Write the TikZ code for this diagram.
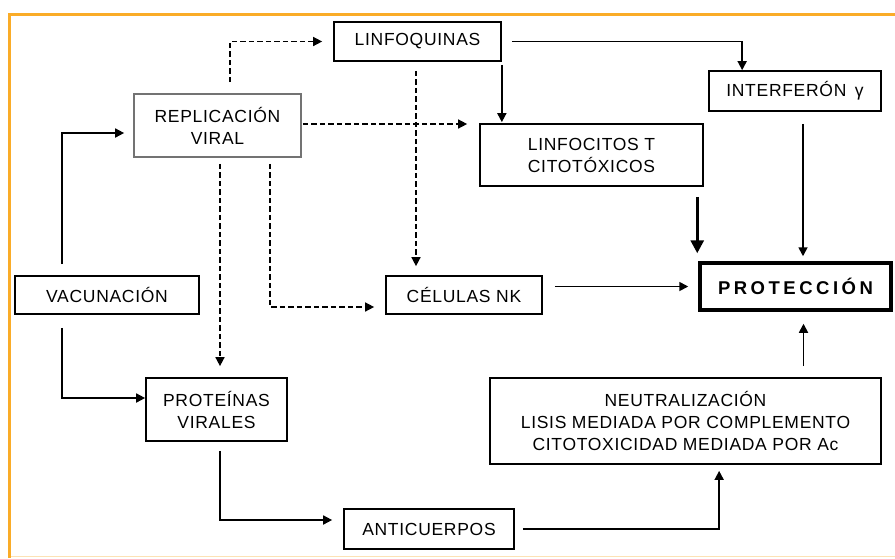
\documentclass[tikz,border=0pt]{standalone}
\usepackage{fontspec}
\setmainfont{Liberation Sans}
\usetikzlibrary{arrows.meta,calc}
\definecolor{frameorange}{RGB}{250,172,40}
\begin{document}
\begin{tikzpicture}[x=1pt,y=-1pt,
  box/.style={draw, line width=1.7pt, rectangle, inner sep=0pt, align=center,
    font=\fontsize{17.5}{22}\selectfont\addfontfeature{LetterSpace=4}},
  arr/.style={line width=1.7pt, -{Triangle[length=9pt,width=9pt]}},
  darr/.style={arr, line width=1.5pt, dash pattern=on 5.5pt off 3pt},
  bigarr/.style={line width=3pt, -{Triangle[length=13pt,width=13pt]}}
]
\useasboundingbox (0,0) rectangle (895,558);
\fill[white] (0,0) rectangle (895,558);
% frame
\draw[frameorange, line width=3.5pt] (9.5,558) -- (9.5,14.5) -- (895,14.5);
\draw[frameorange!35, line width=1.2pt] (11,556.5) -- (895,556.5);

% nodes
\node[box, minimum width=167pt, minimum height=39pt] (linf) at (417.5,41.5) {LINFOQUINAS};
\node[box, draw=black!55, minimum width=167pt, minimum height=63pt] (repl) at (217.5,125.5) {REPLICACIÓN\\VIRAL};
\node[box, minimum width=223pt, minimum height=62pt] (ltc) at (591.5,155) {LINFOCITOS T\\CITOTÓXICOS};
\node[box, minimum width=172pt, minimum height=40pt] (ifn) at (795,91) {INTERFERÓN \,γ};
\node[box, line width=3.5pt, minimum width=191pt, minimum height=47pt,
  font=\fontsize{18.5}{22}\selectfont\bfseries\addfontfeature{LetterSpace=19}] (prot) at (795.5,286.5) {PROTECCIÓN};
\node[box, minimum width=156pt, minimum height=38pt] (nk) at (464,295) {CÉLULAS NK};
\node[box, minimum width=184pt, minimum height=38pt] (vac) at (107,295) {VACUNACIÓN};
\node[box, minimum width=141pt, minimum height=63pt] (prv) at (216.5,409.5) {PROTEÍNAS\\VIRALES};
\node[box, minimum width=170pt, minimum height=40pt] (anti) at (429,529) {ANTICUERPOS};
\node[box, minimum width=391pt, minimum height=86pt] (neut) at (685.5,421) {NEUTRALIZACIÓN\\LISIS MEDIADA POR COMPLEMENTO\\CITOTOXICIDAD MEDIADA POR Ac};

% solid connectors
\draw[arr, shorten <=11pt, shorten >=9pt] ([xshift=48pt]vac.north west) |- ([yshift=-7.5pt]repl.west);
\draw[arr, shorten <=13pt] ([xshift=48pt]vac.south west) |- ([yshift=11.5pt]prv.west);
\draw[arr, shorten <=3pt, shorten >=1pt] (linf.south east) -- (linf.south east |- ltc.north);
\draw[arr, shorten <=10pt] (linf.east) -| ([xshift=34pt]ifn.north west);
\draw[bigarr, shorten <=10pt, shorten >=8pt] ([xshift=-1pt]prot.north west |- ltc.south) -- ([xshift=-1pt]prot.north west);
\draw[arr, shorten <=12pt, shorten >=5pt] ([xshift=8pt]ifn.south) -- ([xshift=8pt]ifn.south |- prot.north);
\draw[arr, shorten <=12pt, shorten >=10pt] (nk.east |- prot.west) -- (prot.west);
\draw[arr, shorten <=11pt, shorten >=12pt] ([xshift=8pt]prot.south |- neut.north) -- ([xshift=8pt]prot.south);
\draw[arr, shorten <=9pt, shorten >=11pt] ([xshift=3.5pt]prv.south) |- ([yshift=9pt]anti.west);
\draw[arr, shorten <=8pt, shorten >=6pt] (anti.east) -| ([xshift=230pt]neut.south west);

% dashed connectors
\draw[darr, shorten <=11pt, shorten >=11pt] ([xshift=12.5pt]repl.north) |- (linf.west);
\draw[darr, shorten <=1pt, shorten >=12pt] ([yshift=1.5pt]repl.east) -- ([yshift=1.5pt]repl.east -| ltc.west);
\draw[darr, shorten <=6pt, shorten >=11pt] ([xshift=2.5pt]repl.south) -- ([xshift=2.5pt]repl.south |- prv.north);
\draw[darr, shorten <=6pt, shorten >=11pt] ([xshift=52.5pt]repl.south) |- ([yshift=-12pt]nk.west);
\draw[darr, shorten <=9pt, shorten >=9pt] ([xshift=-1.5pt]linf.south) -- ([xshift=-1.5pt]linf.south |- nk.north);
\end{tikzpicture}
\end{document}
